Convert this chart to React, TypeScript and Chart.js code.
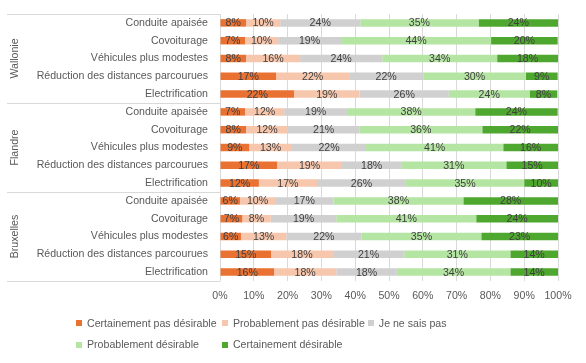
import React, { useEffect, useRef } from "react";
import { Chart, registerables } from "chart.js";

Chart.register(...registerables);

const groups = ["Wallonie", "Flandre", "Bruxelles"];
const items = [
  "Conduite apaisée",
  "Covoiturage",
  "Véhicules plus modestes",
  "Réduction des distances parcourues",
  "Electrification",
];
const seriesNames = [
  "Certainement pas désirable",
  "Probablement pas désirable",
  "Je ne sais pas",
  "Probablement désirable",
  "Certainement désirable",
];
const seriesColors = ["#E97132", "#F6C6AD", "#D0D0D0", "#B4E5A2", "#4EA72E"];

// order: Wallonie (5 items), Flandre (5 items), Bruxelles (5 items)
const certainementPas = [7.7, 7.4, 7.7, 16.6, 21.9, 7.4, 7.7, 8.6, 16.9, 11.5, 5.9, 6.6, 6.2, 15.1, 16.0];
const probablementPas = [10.1, 9.8, 16.0, 21.6, 19.4, 11.6, 12.4, 12.7, 19.2, 17.2, 10.4, 8.4, 13.4, 18.3, 18.4];
const neSaisPas = [23.7, 18.6, 24.3, 21.9, 26.4, 18.6, 21.1, 21.9, 17.5, 26.3, 17.3, 19.4, 22.3, 21.1, 17.9];
const probablement = [35.0, 44.4, 34.0, 30.4, 23.9, 37.9, 36.4, 40.6, 31.1, 35.0, 38.4, 41.4, 35.4, 31.4, 33.6];
const certainement = [23.5, 19.7, 18.0, 9.4, 8.2, 24.4, 22.4, 16.2, 15.3, 10.0, 28.0, 24.2, 22.7, 14.1, 14.1];

const xTicks = [0, 10, 20, 30, 40, 50, 60, 70, 80, 90, 100];

const FONT = "'Liberation Sans', Arial, sans-serif";
const FS = 10.6;
const AXIS_COLOR = "#595959";
const LABEL_COLOR = "#404040";
const GRID_COLOR = "#D9D9D9";

const seriesValues = [certainementPas, probablementPas, neSaisPas, probablement, certainement];

export default function App() {
  const canvasRef = useRef<HTMLCanvasElement | null>(null);

  useEffect(() => {
    document.body.style.margin = "0";
    const canvas = canvasRef.current;
    if (!canvas) return;

    const labels: string[] = [];
    groups.forEach(() => items.forEach((it) => labels.push(it)));

    const dataLabelPlugin = {
      id: "dataLabels",
      afterDatasetsDraw(chart: any) {
        const ctx = chart.ctx;
        ctx.save();
        ctx.font = `${FS}px ${FONT}`;
        ctx.fillStyle = LABEL_COLOR;
        ctx.textAlign = "center";
        ctx.textBaseline = "middle";
        chart.data.datasets.forEach((ds: any, di: number) => {
          const meta = chart.getDatasetMeta(di);
          meta.data.forEach((bar: any, i: number) => {
            const v = ds.data[i];
            const cx = (bar.x + bar.base) / 2;
            ctx.fillText(Math.round(v) + "%", cx, bar.y + 0.5);
          });
        });
        ctx.restore();
      },
    };

    const groupPlugin = {
      id: "groupAxis",
      afterDraw(chart: any) {
        const ctx = chart.ctx;
        const ys = chart.scales.y;
        const area = chart.chartArea;
        const n = items.length;
        const bounds: number[] = [area.top];
        for (let g = 1; g < groups.length; g++) {
          const a = ys.getPixelForValue(g * n - 1);
          const b = ys.getPixelForValue(g * n);
          bounds.push((a + b) / 2);
        }
        bounds.push(area.bottom);
        ctx.save();
        ctx.strokeStyle = GRID_COLOR;
        ctx.lineWidth = 1;
        bounds.forEach((y) => {
          const yy = Math.round(y) + 0.5;
          ctx.beginPath();
          ctx.moveTo(7, yy);
          ctx.lineTo(area.left, yy);
          ctx.stroke();
        });
        ctx.fillStyle = AXIS_COLOR;
        ctx.font = `${FS}px ${FONT}`;
        ctx.textAlign = "center";
        ctx.textBaseline = "middle";
        groups.forEach((g, gi) => {
          const cy = (bounds[gi] + bounds[gi + 1]) / 2;
          ctx.save();
          ctx.translate(15.5, cy);
          ctx.rotate(-Math.PI / 2);
          ctx.fillText(g, 0, 0);
          ctx.restore();
        });

        // legend
        ctx.font = `${FS}px ${FONT}`;
        ctx.textAlign = "left";
        const widths = seriesNames.map((s) => ctx.measureText(s).width);
        const colW = Math.max(...widths) + 11 + 3;
        const left = 76;
        const rowY = [area.bottom + 42.3, area.bottom + 64];
        seriesNames.forEach((s, i) => {
          const col = i % 3;
          const row = Math.floor(i / 3);
          const x = left + col * colW;
          const y = rowY[row];
          ctx.fillStyle = seriesColors[i];
          ctx.fillRect(Math.round(x), Math.round(y) - 3, 6, 6);
          ctx.fillStyle = AXIS_COLOR;
          ctx.fillText(s, x + 11, y + 0.5);
        });
        ctx.restore();
      },
    };

    const chart = new Chart(canvas, {
      type: "bar",
      data: {
        labels,
        datasets: seriesNames.map((name, i) => ({
          label: name,
          data: seriesValues[i],
          backgroundColor: seriesColors[i],
          borderWidth: 0,
          barPercentage: 0.42,
          categoryPercentage: 1,
        })),
      },
      options: {
        indexAxis: "y",
        responsive: false,
        animation: false,
        layout: { padding: { top: 14, right: 28, left: 0, bottom: 0 } },
        plugins: {
          legend: { display: false },
          tooltip: { enabled: false },
          title: { display: false },
        },
        scales: {
          x: {
            stacked: true,
            min: 0,
            max: 100,
            afterBuildTicks: (scale: any) => {
              scale.ticks = xTicks.map((v) => ({ value: v }));
            },
            afterFit: (scale: any) => {
              scale.height = 82;
            },
            grid: { color: GRID_COLOR, drawTicks: false, lineWidth: 1 },
            border: { display: false },
            ticks: {
              color: AXIS_COLOR,
              font: { family: FONT, size: FS },
              padding: 9,
              callback: (v: any) => v + "%",
            },
          },
          y: {
            stacked: true,
            afterFit: (scale: any) => {
              scale.width = 220;
              scale.paddingTop = 0;
              scale.paddingBottom = 0;
            },
            grid: { display: false, drawTicks: false },
            border: { display: false },
            ticks: {
              color: AXIS_COLOR,
              font: { family: FONT, size: FS },
              padding: 12,
              autoSkip: false,
            },
          },
        },
      },
      plugins: [dataLabelPlugin, groupPlugin],
    });

    return () => chart.destroy();
  }, []);

  return (
    <div style={{ width: 586, height: 363 }}>
      <canvas ref={canvasRef} width={586} height={363} />
    </div>
  );
}
